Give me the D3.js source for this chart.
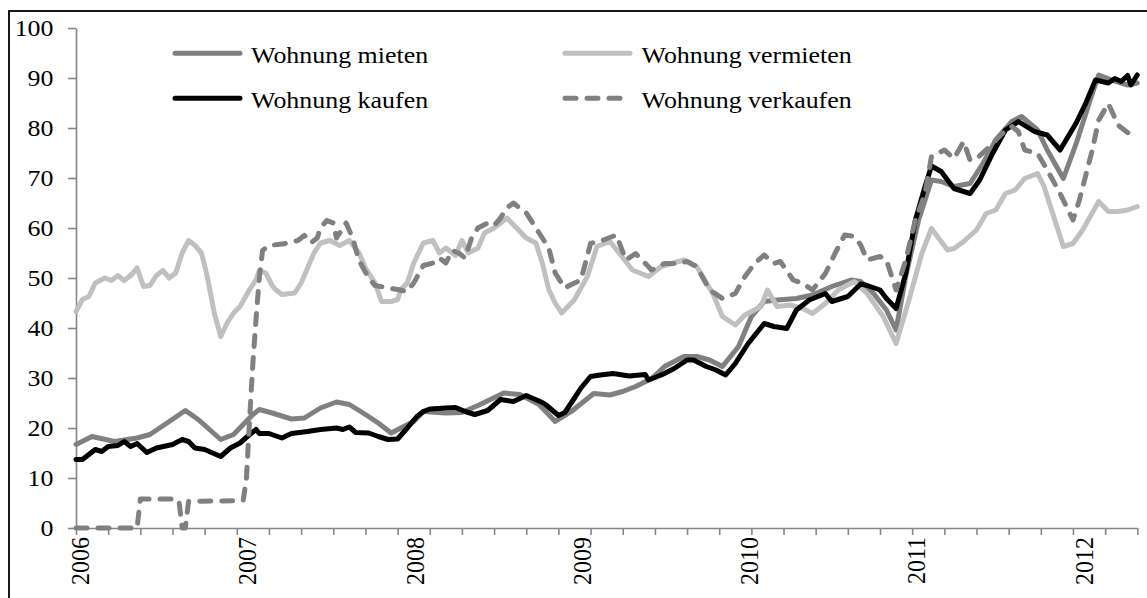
<!DOCTYPE html>
<html><head><meta charset="utf-8">
<script src="https://cdn.jsdelivr.net/npm/d3@7"></script>
<style>html,body{margin:0;padding:0;background:#fff;overflow:hidden}</style>
</head><body>
<svg id="c" width="1147" height="598"></svg>
<script>
// ---- DATA (week index since Jan 2006, value) ----
const yTicks = [0,10,20,30,40,50,60,70,80,90,100];
const yearLabels = ["2006","2007","2008","2009","2010","2011","2012"];
const yearWeeks = [0,52,104,156,208,260,312];
const seriesNames = ["Wohnung mieten","Wohnung vermieten","Wohnung kaufen","Wohnung verkaufen"];

const mieten = [[0,16.7],[5,18.3],[12,17.3],[19,18.0],[23,18.7],[29,21.3],[34,23.5],[38,21.7],[45,17.7],[49,18.7],[55,22.7],[57,23.7],[61,23.0],[67,21.8],[71,22.0],[76,24.0],[81,25.2],[85,24.7],[90,22.7],[94,21.0],[98,19.0],[101,20.0],[105,21.3],[108,23.3],[115,23.0],[120,23.1],[125,24.5],[133,27.0],[138,26.7],[144,24.7],[149,21.3],[154,23.3],[161,26.9],[166,26.6],[170,27.3],[174,28.3],[179,29.9],[183,32.3],[189,34.3],[193,34.3],[197,33.6],[201,32.3],[206,36.3],[210,42.3],[214,45.3],[218,45.6],[224,45.9],[229,46.6],[235,48.3],[241,49.6],[244,49.3],[248,46.9],[252,43.6],[255,39.6],[258,50.3],[262,61.6],[266,69.6],[269,69.3],[273,68.3],[278,68.9],[282,72.9],[286,77.6],[291,81.3],[294,82.3],[299,79.6],[302,75.6],[307,69.9],[311,76.9],[316,86.9],[318,90.6],[322,89.6],[327,88.6],[330,89.0]];

const vermieten = [[0,43.3],[2,45.7],[4,46.3],[6,49],[9,50],[11,49.5],[13,50.5],[15,49.5],[17,50.5],[19,52],[21,48.3],[23,48.5],[25,50.5],[27,51.5],[29,50],[31,51],[33,55],[35,57.5],[37,56.5],[39,55],[40,52.5],[41,49.7],[43,43],[45,38.3],[47,41],[49,43],[51,44.3],[54,47.7],[56,49.7],[57,51.5],[59,51],[61,48.5],[62,47.7],[64,46.7],[68,47],[70,49],[72,52],[74,55],[76,57],[79,57.5],[82,56.5],[85,57.5],[88,55],[90,52],[93,49],[95,45.3],[98,45.3],[100,45.7],[101,47.7],[103,49],[105,53],[108,57],[111,57.5],[113,55],[115,56],[118,54.5],[120,57.5],[122,55],[125,56],[127,59],[130,60],[133,61.5],[134,62],[137,60],[140,58],[143,57],[145,53],[147,47.7],[149,45],[151,43],[153,44.3],[155,45.7],[157,48],[159,50.3],[162,56.3],[166,57.3],[169,54.9],[173,51.6],[178,50.3],[182,52.3],[189,53.6],[193,52.3],[198,46.9],[201,42.3],[205,40.6],[208,42.6],[213,44.3],[215,47.6],[218,44.3],[222,44.6],[226,43.9],[229,42.9],[233,44.9],[237,47.6],[242,49.3],[246,46.9],[251,42.3],[255,36.9],[259,45.6],[263,54.9],[266,59.9],[269,57.3],[271,55.6],[273,55.9],[276,57.3],[280,59.6],[283,62.9],[286,63.6],[289,66.9],[292,67.6],[295,69.9],[299,70.9],[301,68.3],[304,62.3],[307,56.3],[310,56.9],[313,59.6],[318,65.3],[321,63.3],[324,63.3],[327,63.6],[330,64.3]];

const kaufen = [[0,13.7],[2,13.7],[6,15.7],[8,15.3],[10,16.3],[13,16.5],[15,17.3],[17,16.3],[19,16.9],[22,15.1],[25,16.0],[30,16.7],[33,17.7],[35,17.3],[37,16.0],[40,15.7],[45,14.3],[48,16.0],[51,17.0],[54,18.7],[56,19.7],[57,18.9],[60,18.9],[64,18.0],[67,18.9],[72,19.3],[76,19.7],[81,20.0],[83,19.7],[85,20.2],[87,19.1],[91,19.0],[94,18.3],[97,17.7],[100,17.8],[103,20.0],[106,22.3],[108,23.3],[110,23.8],[115,24.0],[118,24.1],[121,23.3],[124,22.7],[128,23.5],[132,25.7],[136,25.3],[140,26.5],[145,25.1],[146,24.7],[150,22.5],[152,23.1],[155,26.0],[157,28.0],[160,30.3],[163,30.6],[167,30.9],[172,30.4],[177,30.7],[178,29.6],[182,30.6],[186,31.9],[190,33.6],[192,33.6],[196,32.3],[199,31.6],[202,30.6],[205,32.9],[209,36.9],[214,40.9],[217,40.3],[221,39.9],[224,43.6],[228,45.6],[233,46.9],[235,45.3],[240,46.3],[244,48.8],[246,48.5],[250,47.6],[252,45.9],[255,43.9],[258,50.9],[261,61.6],[264,68.3],[266,72.4],[269,71.3],[273,67.9],[278,66.9],[281,69.6],[285,74.9],[289,79.6],[293,81.3],[298,79.3],[302,78.6],[306,75.6],[311,81],[314,85],[317,89.6],[321,89.0],[323,89.9],[325,89.3],[327,90.5],[328,88.6],[330,90.6]];

const verkaufen = [[0,0],[19,0],[20,5.8],[31,5.8],[32,5.5],[33,0],[34,0],[35,5.3],[52,5.5],[53,10],[54,22],[55,33],[56,42],[57,50],[58,55.5],[60,56.5],[64,56.8],[66,57],[69,57.5],[71,58.5],[73,57],[75,58],[76,60],[78,61.5],[80,61],[81,58],[83,60],[84,61],[86,58],[88,53.5],[91,50],[93,48.5],[97,48],[100,47.7],[103,47.3],[105,49],[108,52.5],[111,53],[113,54],[115,53],[117,55.5],[119,55],[121,54],[123,58],[125,60],[128,61],[130,60.5],[132,62],[134,64],[136,65],[138,64],[140,63],[142,61],[144,59],[147,56],[149,51],[152,48],[154,48.7],[157,49.6],[160,56.9],[164,57.6],[168,58.6],[171,53.6],[174,54.9],[179,51.6],[183,52.9],[187,52.9],[190,53.3],[193,52.3],[197,47.6],[201,45.9],[205,46.9],[208,50.3],[211,52.9],[214,54.6],[217,52.9],[219,53.3],[223,49.6],[226,48.9],[229,47.6],[233,50.9],[236,54.9],[239,58.6],[242,58.3],[244,56.6],[246,53.6],[250,54.3],[252,53.6],[254,49.6],[255,47.6],[258,53.6],[261,61.6],[264,66.9],[266,74.3],[270,75.6],[273,73.9],[276,77.3],[278,73.6],[280,73.9],[283,75.6],[288,78.9],[291,80.3],[293,79.3],[295,75.6],[299,74.9],[302,71.6],[306,66.9],[310,61.6],[312,65.6],[316,75.6],[318,81.6],[321,84.9],[324,80.6],[328,78.6],[330,78.3]];

// ---- STYLES ----
const styles = {
  "Wohnung mieten":    {color:"#808080", dash:null},
  "Wohnung vermieten": {color:"#c0c0c0", dash:null},
  "Wohnung kaufen":    {color:"#000000", dash:null},
  "Wohnung verkaufen": {color:"#808080", dash:"11,11"}
};
const seriesData = {
  "Wohnung mieten": mieten,
  "Wohnung vermieten": vermieten,
  "Wohnung kaufen": kaufen,
  "Wohnung verkaufen": verkaufen
};

const FONT = "'Liberation Serif','Times New Roman',serif";
const FS = 24;
const SX = 1.08;
const AXIS = "#868686";
const LW = 5;

const svg = d3.select("#c");
svg.append("rect").attr("x",0).attr("y",0).attr("width",1147).attr("height",598).attr("fill","#fff");
// outer frame
svg.append("rect").attr("x",9).attr("y",11).attr("width",1400).attr("height",900)
  .attr("fill","none").attr("stroke","#000").attr("stroke-width",1.8);

const x = d3.scaleLinear().domain([0,330]).range([76,1137.3]);
const y = d3.scaleLinear().domain([0,100]).range([528,28]);

// Y axis
const gy = svg.append("g").attr("transform","translate(" + x(0) + ",0)")
  .call(d3.axisLeft(y).tickValues(yTicks).tickSize(8).tickSizeOuter(0).tickFormat(""));
gy.selectAll("path,line").attr("stroke",AXIS).attr("stroke-width",1.6);

yTicks.forEach(v => {
  svg.append("text")
    .attr("transform","translate(53.5," + (y(v)+8) + ") scale(" + SX + ",1)")
    .attr("text-anchor","end").attr("font-family",FONT).attr("font-size",FS)
    .attr("fill","#000").text(v);
});

// X axis
const gx = svg.append("g").attr("transform","translate(0," + y(0) + ")")
  .call(d3.axisBottom(x).tickValues(d3.range(0,331,10)).tickSize(7).tickSizeOuter(0).tickFormat(""));
gx.selectAll("path,line").attr("stroke",AXIS).attr("stroke-width",1.6);

yearLabels.forEach((lab,i) => {
  svg.append("text")
    .attr("transform","translate(" + (x(yearWeeks[i]) + 13.2) + ",537) scale(" + SX + ",1) rotate(-90)")
    .attr("text-anchor","end").attr("font-family",FONT).attr("font-size",FS)
    .attr("fill","#000").text(lab);
});

// Series
const line = d3.line().x(d => x(d[0])).y(d => y(d[1]));
const drawOrder = ["Wohnung mieten","Wohnung vermieten","Wohnung kaufen","Wohnung verkaufen"];
drawOrder.forEach(name => {
  const st = styles[name];
  const p = svg.append("path").datum(seriesData[name])
    .attr("d", line).attr("fill","none").attr("stroke", st.color)
    .attr("stroke-width",LW).attr("stroke-linejoin","round").attr("stroke-linecap","round");
  if (st.dash) p.attr("stroke-dasharray", st.dash);
});

// Legend
const legendPos = [
  {name:"Wohnung mieten", lx:175, ly:53.3, tx:251},
  {name:"Wohnung kaufen", lx:175, ly:98.3, tx:251},
  {name:"Wohnung vermieten", lx:565, ly:53.3, tx:641.5},
  {name:"Wohnung verkaufen", lx:565, ly:98.3, tx:641.5}
];
legendPos.forEach(L => {
  const st = styles[L.name];
  const len = st.dash ? 55 : 65;
  const p = svg.append("line").attr("x1",L.lx).attr("x2",L.lx+len).attr("y1",L.ly).attr("y2",L.ly)
    .attr("stroke",st.color).attr("stroke-width",LW).attr("stroke-linecap","round");
  if (st.dash) p.attr("stroke-dasharray", st.dash);
  svg.append("text")
    .attr("transform","translate(" + L.tx + "," + (L.ly+9.5) + ") scale(" + SX + ",1)")
    .attr("font-family",FONT).attr("font-size",FS).attr("fill","#000").text(L.name);
});
</script>
</body></html>
